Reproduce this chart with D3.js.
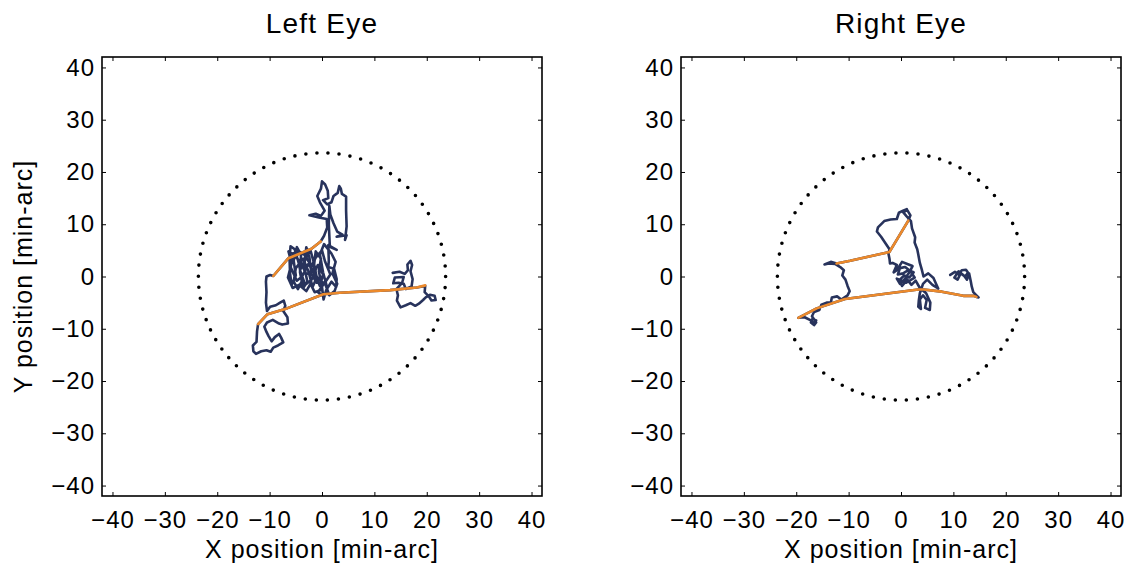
<!DOCTYPE html>
<html>
<head>
<meta charset="utf-8">
<script src="https://cdn.jsdelivr.net/npm/d3@7"></script>
<style>
  html, body { margin: 0; padding: 0; background: #fff; }
  svg { display: block; font-family: "Liberation Sans", Arial, Helvetica, sans-serif; }
</style>
</head>
<body>
<svg id="chart" width="1129" height="567"></svg>
<script>
// Fixational eye movement traces, positions in minutes of arc.
const tickValues = [-40, -30, -20, -10, 0, 10, 20, 30, 40];
const axisDomain = [-42, 42];
const fieldRadius = 23.6;   // dotted reference circle

const panelTitles = ["Left Eye", "Right Eye"];
const xLabel = "X position [min-arc]";
const yLabel = "Y position [min-arc]";

// Left eye: drift trace (includes the saccade segments)
const leftTrace = [
  [13.5,0.7],[14.8,0.9],[15.8,0.5],[16.4,1.2],[16.3,2.3],[16.9,3.0],[17.2,2.2],[16.9,1.0],[17.3,-0.5],
  [17.1,-1.9],[16.0,-2.4],[15.6,-1.4],[14.6,-1.2],[13.6,-1.3],[13.9,-0.2],[15.6,-0.1],[15.3,-1.2],
  [14.2,-2.4],[14.5,-3.6],[14.3,-4.6],[15.0,-5.9],[16.0,-5.5],[16.9,-5.1],[17.8,-5.6],[18.5,-5.2],
  [19.3,-4.5],[19.8,-4.0],[20.6,-3.5],[21.5,-3.7],[21.7,-4.5],[20.9,-4.6],[20.4,-3.8],[19.6,-3.0],
  [19.7,-1.8],
  [18.1,-2.1],[13.0,-2.6],[3.4,-3.1],[0.25,-3.4],[-6.7,-6.1],[-10.4,-7.2],[-12.2,-9.1],
  [-12.4,-10.5],[-12.5,-12.5],[-13.2,-13.2],[-13.1,-14.3],[-12.6,-14.8],[-11.6,-14.3],[-10.6,-14.1],
  [-9.8,-14.4],[-9.3,-13.6],[-8.4,-13.2],[-7.4,-12.6],[-7.8,-11.7],[-8.2,-11.0],[-9.0,-11.6],
  [-9.6,-12.4],[-10.2,-11.4],[-10.6,-10.6],[-11.0,-9.6],[-10.5,-8.8],[-9.4,-8.3],[-8.2,-9.0],
  [-7.6,-9.2],[-6.5,-9.0],[-6.6,-7.8],[-7.4,-6.6],[-7.0,-5.6],[-7.3,-4.6],[-8.0,-5.0],[-8.8,-5.5],
  [-9.9,-5.8],[-10.5,-6.6],[-10.7,-5.0],[-10.6,-3.0],[-10.7,-1.0],[-10.6,0.0],[-9.9,0.3],[-9.3,0.1],
  [-6.4,3.5],[-2.0,5.3],[-0.25,6.7],
  [0.4,7.8],[1.0,9.4],[0.9,11.0],[-0.6,11.3],[-2.4,11.7],[-1.2,12.0],[-0.2,11.6],[0.5,12.6],
  [-0.4,14.2],[-0.9,15.4],[-0.2,16.8],[0.0,18.2],[0.6,17.6],[1.1,16.4],[1.2,15.0],[0.2,14.6],
  [1.0,13.8],[1.8,14.2],[2.2,15.4],[3.0,16.0],[3.3,17.3],[3.6,16.8],[3.8,15.8],[4.6,15.3],
  [4.6,12.6],[4.7,9.6],[4.4,7.0],[4.7,7.9],[2.8,7.6],[3.9,8.0],[2.9,8.6],[2.2,10.2],[1.6,11.8],
  [1.4,13.5],[1.3,10.0],[1.5,5.7],[2.8,5.1],[1.2,6.0],[1.3,3.0],[1.2,1.8],
  [2.3,1.5],[2.8,-0.5],[2.7,-2.0],[1.8,-1.0],[0.8,-2.6],[0.3,-4.4],[0.0,-2.0],[-0.6,1.0],
  [-0.2,3.4],[-1.2,4.8],[-1.6,1.5],[-1.0,-1.2],[-2.0,0.4],[-2.4,3.6],[-3.0,5.6],[-3.4,2.0],
  [-2.8,-1.0],[-3.6,-2.2],[-4.2,0.8],[-4.0,4.2],[-4.8,5.6],[-5.4,3.0],[-5.0,0.2],[-5.8,-1.6],
  [-6.1,0.6],[-6.2,3.6],[-6.0,5.8],[-5.2,5.2],[-4.4,2.4],[-3.8,-0.8],[-4.6,-2.4],[-5.4,-1.0],
  [-5.0,1.6],[-3.6,3.4],[-2.6,1.0],[-1.8,-2.0],[-1.0,-0.2],[-1.6,2.8],[-2.2,5.0],[-3.2,3.2],
  [-4.2,1.2],[-3.2,-1.6],[-2.0,-0.6],[-0.8,2.2],[0.2,0.4],[-0.4,-1.8],[-1.4,0.6],[-2.6,2.4],
  [-3.8,0.0],[-4.8,-0.8],[-6.0,1.8],[-5.6,4.4],[-4.4,4.8],[-3.4,4.2],[-2.0,2.0],[-1.2,3.6],
  [0.0,5.0],[0.6,2.8],[1.6,0.4],[0.8,-0.8],[-0.8,-3.0],[0.4,-3.8],
  [1.0,-2.2],[0.2,0.8],[-0.4,4.2],[0.4,6.2],[1.8,4.4],[2.6,2.8],[2.0,0.6],[2.9,-1.4],[2.4,-2.8],
  [1.4,-3.6],[0.6,-1.4],[-0.6,-0.6],[-1.8,1.2],[-3.0,0.4],[-4.0,2.6],[-5.2,4.0],[-6.4,4.8],
  [-5.8,2.6],[-6.5,-0.2],[-5.6,-2.2],[-4.4,-1.6],[-3.0,-2.8],[-2.2,-1.4],[-1.4,-3.0],[-0.2,-2.6]
];

// Left eye: saccades
const leftSaccades = [
  [[19.7,-1.7],[18.1,-2.1],[13.0,-2.6],[3.4,-3.1],[0.25,-3.4],[-6.7,-6.1],[-10.4,-7.2],[-12.2,-9.1]],
  [[-9.3,0.1],[-6.4,3.5],[-2.0,5.3],[-0.25,6.7]]
];

// Right eye: drift trace (includes the saccade segments)
const rightTrace = [
  [9.4,0.3],[10.3,0.9],[11.0,0.4],[11.6,1.2],[12.4,1.3],[12.8,0.7],[12.2,0.0],[11.4,0.6],[10.8,-0.6],
  [10.2,-0.2],[11.0,1.0],[12.0,0.2],[12.6,-0.6],[13.0,0.6],[13.3,-0.8],[13.5,-1.9],[13.8,-3.0],
  [14.4,-3.6],[14.8,-4.0],[14.4,-3.9],
  [13.8,-3.7],[11.9,-3.7],[7.8,-2.9],[4.3,-2.5],[3.3,-2.5],[-10.7,-4.3],[-16.1,-6.1],[-19.6,-7.9],
  [-18.4,-7.8],[-17.2,-8.4],[-16.6,-9.0],[-16.2,-8.4],[-16.9,-8.1],[-17.2,-8.8],[-16.6,-9.3],
  [-16.2,-8.8],[-17.0,-7.6],[-16.6,-6.8],[-15.6,-6.4],[-15.2,-5.4],[-14.2,-5.0],[-13.4,-5.0],
  [-13.2,-4.0],[-12.2,-3.8],[-11.4,-4.4],[-10.2,-3.6],[-9.8,-2.8],[-10.2,-1.8],[-10.6,-0.6],
  [-11.2,0.2],[-10.9,1.2],[-11.6,1.8],[-12.6,2.4],[-13.8,2.5],[-14.6,2.3],[-13.4,2.8],[-12.3,2.5],
  [-9.7,3.0],[-2.2,4.7],[1.4,10.7],
  [1.8,11.7],[1.2,12.7],[0.4,12.3],[1.0,11.6],[1.9,10.6],[2.1,9.2],[2.7,7.5],[2.6,6.5],[3.1,5.2],
  [3.3,4.2],[3.6,2.6],[4.0,1.2],[4.3,0.0],
  [5.2,0.6],[6.2,-0.3],[6.6,-1.2],[7.1,-2.3],[6.0,-1.6],[5.0,-0.6],[4.2,-1.4],[3.6,-3.2],[3.4,-4.6],
  [3.3,-5.8],[3.8,-6.2],[3.6,-4.4],[4.2,-3.6],[4.9,-4.5],[4.6,-6.0],[5.5,-6.4],[5.6,-5.0],[4.8,-3.2],
  [3.6,-2.2],[2.8,-0.8],[2.0,-1.6],[1.2,-0.6],[0.2,-1.8],[-0.4,-0.8],[0.6,0.2],[1.6,-0.2],[2.4,0.8],
  [1.4,1.2],[0.4,0.6],[-0.6,0.4],[-0.2,1.6],[0.8,1.8],[1.8,1.0],[2.6,-0.2],[1.0,-1.2],[-0.8,-0.4],
  [-0.2,-1.4],[0.8,-0.4],[1.6,0.8],[2.2,2.0],[1.2,2.4],[0.2,2.8],[-0.8,1.2],
  [-1.4,0.8],[-0.8,2.2],[-1.6,2.6],[-2.1,2.5],[-2.2,3.4],[-2.4,4.4],[-2.2,5.2],[-3.0,6.4],[-3.8,7.6],
  [-4.6,8.6],[-4.4,9.4],[-3.2,10.6],[-2.0,10.9],[-0.8,11.0],[-0.4,12.2],[0.4,12.6],[1.1,12.9]
];

// Right eye: saccades
const rightSaccades = [
  [[14.4,-3.9],[13.8,-3.7],[11.9,-3.7],[7.8,-2.9],[4.3,-2.5],[3.3,-2.5],[-10.7,-4.3],[-16.1,-6.1],[-19.6,-7.9]],
  [[-12.3,2.5],[-9.7,3.0],[-2.2,4.7],[1.4,10.7]]
];

const panels = [
  { title: panelTitles[0], trace: leftTrace, saccades: leftSaccades, left: 102, showYLabel: true },
  { title: panelTitles[1], trace: rightTrace, saccades: rightSaccades, left: 681, showYLabel: false }
];

const plotTop = 57, plotW = 440, plotH = 439;
const traceColor = "#28335c";
const saccadeColor = "#ec8a2c";
const fontStack = "'Liberation Sans', Arial, Helvetica, sans-serif";

const svg = d3.select("#chart");

panels.forEach(p => {
  const x = d3.scaleLinear().domain(axisDomain).range([0, plotW]);
  const y = d3.scaleLinear().domain(axisDomain).range([plotH, 0]);
  const g = svg.append("g").attr("transform", `translate(${p.left},${plotTop})`);

  const line = d3.line().x(d => x(d[0])).y(d => y(d[1]));

  // dotted reference circle
  g.append("circle")
    .attr("cx", x(0)).attr("cy", y(0))
    .attr("r", x(fieldRadius) - x(0))
    .attr("fill", "none")
    .attr("stroke", "#000")
    .attr("stroke-width", 3.6)
    .attr("stroke-linecap", "round")
    .attr("stroke-dasharray", "0 11.1");

  g.append("path")
    .datum(p.trace)
    .attr("d", line)
    .attr("fill", "none")
    .attr("stroke", traceColor)
    .attr("stroke-width", 2.6)
    .attr("stroke-linejoin", "round")
    .attr("stroke-linecap", "round");

  g.selectAll(".saccade")
    .data(p.saccades)
    .join("path")
    .attr("class", "saccade")
    .attr("d", line)
    .attr("fill", "none")
    .attr("stroke", saccadeColor)
    .attr("stroke-width", 2.6)
    .attr("stroke-linejoin", "round")
    .attr("stroke-linecap", "round");

  // box axes with inward ticks
  const tickLen = 4;
  const fmt = d3.format("d");
  const bottom = g.append("g").attr("transform", `translate(0,${plotH})`)
    .call(d3.axisBottom(x).tickValues(tickValues).tickFormat(fmt).tickSizeInner(-tickLen).tickSizeOuter(0).tickPadding(15));
  const leftAx = g.append("g")
    .call(d3.axisLeft(y).tickValues(tickValues).tickFormat(fmt).tickSizeInner(-tickLen).tickSizeOuter(0).tickPadding(7));
  const topAx = g.append("g")
    .call(d3.axisTop(x).tickValues(tickValues).tickFormat("").tickSizeInner(-tickLen).tickSizeOuter(0));
  const rightAx = g.append("g").attr("transform", `translate(${plotW},0)`)
    .call(d3.axisRight(y).tickValues(tickValues).tickFormat("").tickSizeInner(-tickLen).tickSizeOuter(0));

  [bottom, leftAx, topAx, rightAx].forEach(a => {
    a.select(".domain").remove();
    a.selectAll("line").attr("stroke", "#000").attr("stroke-width", 1);
    a.selectAll("text").attr("fill", "#000").style("font-size", "24px")
      .style("letter-spacing", "1px")
      .style("font-family", fontStack);
  });
  bottom.selectAll("text").attr("dy", "0.71em");

  g.append("rect")
    .attr("x", 0).attr("y", 0).attr("width", plotW).attr("height", plotH)
    .attr("fill", "none").attr("stroke", "#000").attr("stroke-width", 1.6);

  g.append("text")
    .attr("x", plotW / 2).attr("y", -24)
    .attr("text-anchor", "middle")
    .style("font-size", "28px")
    .style("letter-spacing", "1.2px")
    .text(p.title);

  g.append("text")
    .attr("x", plotW / 2).attr("y", plotH + 62)
    .attr("text-anchor", "middle")
    .style("font-size", "25px")
    .style("letter-spacing", "1px")
    .text(xLabel);

  if (p.showYLabel) {
    g.append("text")
      .attr("transform", `translate(-70,${plotH / 2}) rotate(-90)`)
      .attr("text-anchor", "middle")
      .style("font-size", "25px")
      .style("letter-spacing", "1px")
      .text(yLabel);
  }
});
</script>
</body>
</html>
